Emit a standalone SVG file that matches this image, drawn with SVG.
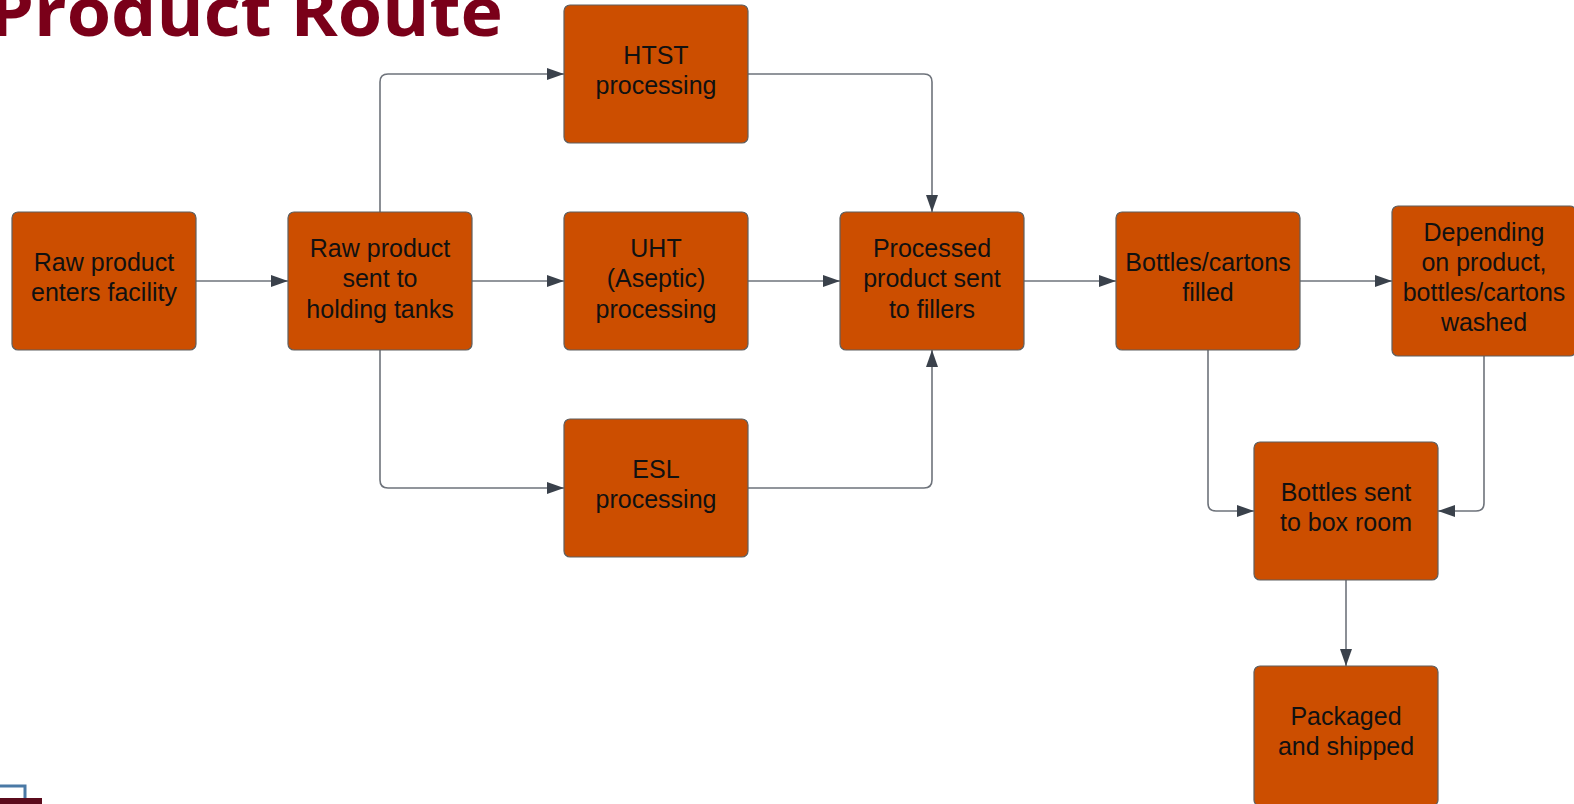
<svg xmlns="http://www.w3.org/2000/svg" width="1574" height="804" viewBox="0 0 1574 804">
<defs>
<style>
.node rect{fill:#cc4e00;stroke:#5f5f5f;stroke-width:1.2}
.node text{font-family:"Liberation Sans",Arial,sans-serif;font-size:25px;fill:#111;text-anchor:middle}
.conn path{fill:none;stroke:#6e737b;stroke-width:1.6;marker-end:url(#arr)}
.title{font-family:"Open Sans","Noto Sans",sans-serif;font-weight:700;font-size:68px;fill:#7a0019}
</style>
<marker id="arr" markerUnits="userSpaceOnUse" markerWidth="18" markerHeight="13" refX="17" refY="6" orient="auto">
<path d="M0,0 L17,6 L0,12 z" fill="#3a414b"/>
</marker>
</defs>
<rect width="1574" height="804" fill="#fff"/>
<text class="title" x="-11" y="36" textLength="514" lengthAdjust="spacingAndGlyphs">Product Route</text>
<path d="M0,786 H25 V798" fill="none" stroke="#4a79a5" stroke-width="3"/>
<rect x="0" y="798" width="42" height="6" fill="#5b0b1c"/>
<g class="conn" id="connectors">
<path d="M196,281 H288"/>
<path d="M380,212 V82 Q380,74 388,74 H564"/>
<path d="M472,281 H564"/>
<path d="M380,350 V480 Q380,488 388,488 H564"/>
<path d="M748,74 H924 Q932,74 932,82 V212"/>
<path d="M748,281 H840"/>
<path d="M748,488 H924 Q932,488 932,480 V350"/>
<path d="M1024,281 H1116"/>
<path d="M1300,281 H1392"/>
<path d="M1208,350 V503 Q1208,511 1216,511 H1254"/>
<path d="M1484,356 V503 Q1484,511 1476,511 H1438"/>
<path d="M1346,580 V666"/>
</g>
<g class="node" id="n-raw-enters"><rect x="12" y="212" width="184" height="138" rx="6"/><text x="104" y="271">Raw product</text><text x="104" y="301">enters facility</text></g>
<g class="node" id="n-holding"><rect x="288" y="212" width="184" height="138" rx="6"/><text x="380" y="257">Raw product</text><text x="380" y="287">sent to</text><text x="380" y="318">holding tanks</text></g>
<g class="node" id="n-htst"><rect x="564" y="5" width="184" height="138" rx="6"/><text x="656" y="64">HTST</text><text x="656" y="94">processing</text></g>
<g class="node" id="n-uht"><rect x="564" y="212" width="184" height="138" rx="6"/><text x="656" y="257">UHT</text><text x="656" y="287">(Aseptic)</text><text x="656" y="318">processing</text></g>
<g class="node" id="n-esl"><rect x="564" y="419" width="184" height="138" rx="6"/><text x="656" y="478">ESL</text><text x="656" y="508">processing</text></g>
<g class="node" id="n-processed"><rect x="840" y="212" width="184" height="138" rx="6"/><text x="932" y="257">Processed</text><text x="932" y="287">product sent</text><text x="932" y="318">to fillers</text></g>
<g class="node" id="n-filled"><rect x="1116" y="212" width="184" height="138" rx="6"/><text x="1208" y="271">Bottles/cartons</text><text x="1208" y="301">filled</text></g>
<g class="node" id="n-washed"><rect x="1392" y="206" width="184" height="150" rx="6"/><text x="1484" y="241">Depending</text><text x="1484" y="271">on product,</text><text x="1484" y="301">bottles/cartons</text><text x="1484" y="331">washed</text></g>
<g class="node" id="n-boxroom"><rect x="1254" y="442" width="184" height="138" rx="6"/><text x="1346" y="501">Bottles sent</text><text x="1346" y="531">to box room</text></g>
<g class="node" id="n-shipped"><rect x="1254" y="666" width="184" height="140" rx="6"/><text x="1346" y="725">Packaged</text><text x="1346" y="755">and shipped</text></g>
</svg>
